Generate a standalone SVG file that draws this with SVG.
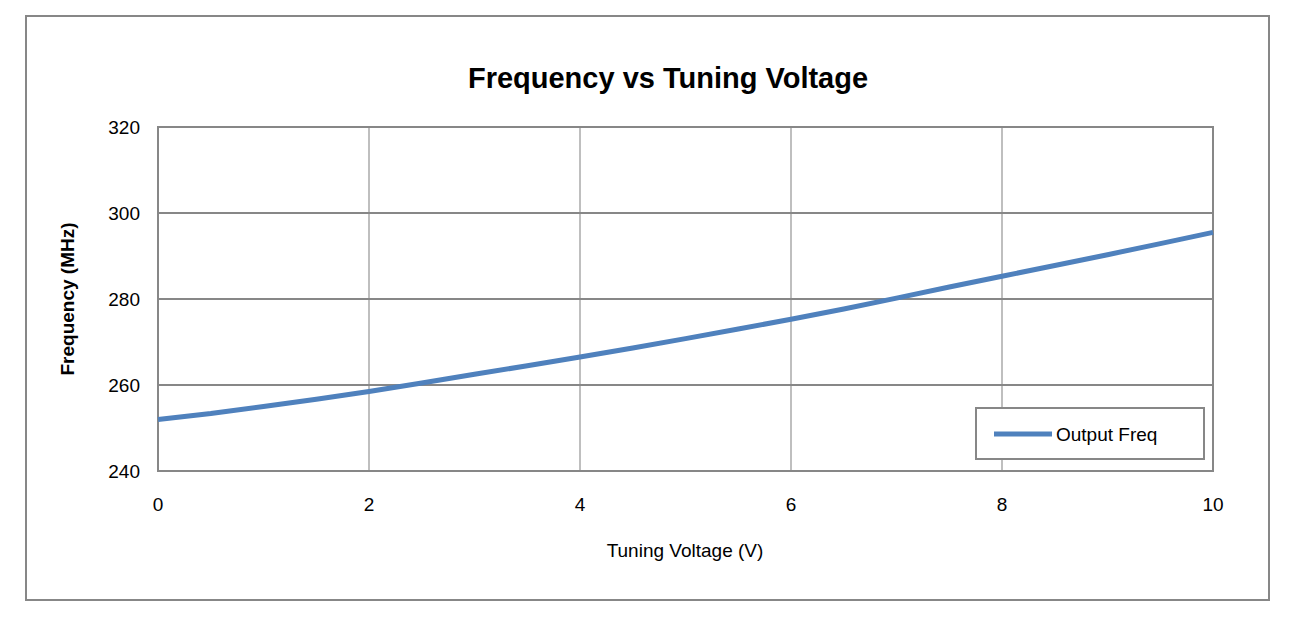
<svg xmlns="http://www.w3.org/2000/svg" width="1304" height="620" viewBox="0 0 1304 620">
<style>
text{font-family:"Liberation Sans","DejaVu Sans",sans-serif;fill:#000}
.t{font-size:19px}
.vg{stroke:#bfbfbf;stroke-width:2}
.hg{stroke:#878787;stroke-width:2}
</style>
<rect x="0" y="0" width="1304" height="620" fill="#fff"/>
<rect x="26" y="16" width="1243" height="584" fill="#fff" stroke="#878787" stroke-width="2"/>
<text x="668" y="88" text-anchor="middle" font-size="29" font-weight="bold">Frequency vs Tuning Voltage</text>
<g id="grid">
<line class="vg" x1="369" y1="127" x2="369" y2="471"/>
<line class="vg" x1="580" y1="127" x2="580" y2="471"/>
<line class="vg" x1="791" y1="127" x2="791" y2="471"/>
<line class="vg" x1="1002" y1="127" x2="1002" y2="471"/>
<line class="hg" x1="158" y1="213" x2="1213" y2="213"/>
<line class="hg" x1="158" y1="299" x2="1213" y2="299"/>
<line class="hg" x1="158" y1="385" x2="1213" y2="385"/>
<rect x="158" y="127" width="1055" height="344" fill="none" stroke="#878787" stroke-width="2"/>
</g>
<g id="yticks" class="t">
<text class="t" x="140" y="134" text-anchor="end">320</text>
<text class="t" x="140" y="220" text-anchor="end">300</text>
<text class="t" x="140" y="306" text-anchor="end">280</text>
<text class="t" x="140" y="392" text-anchor="end">260</text>
<text class="t" x="140" y="478" text-anchor="end">240</text>
</g>
<g id="xticks">
<text class="t" x="158" y="511" text-anchor="middle">0</text>
<text class="t" x="369" y="511" text-anchor="middle">2</text>
<text class="t" x="580" y="511" text-anchor="middle">4</text>
<text class="t" x="791" y="511" text-anchor="middle">6</text>
<text class="t" x="1002" y="511" text-anchor="middle">8</text>
<text class="t" x="1213" y="511" text-anchor="middle">10</text>
</g>
<text class="t" x="685" y="557" text-anchor="middle">Tuning Voltage (V)</text>
<text x="74" y="299" text-anchor="middle" font-size="19" font-weight="bold" transform="rotate(-90 74 299)">Frequency (MHz)</text>
<g id="connectors">
<polyline fill="none" stroke="#4f81bd" stroke-width="5" stroke-linejoin="round" points="158,419.4 210.8,413.6 263.5,406.5 316.3,399.3 369,391.5 421.8,383 474.5,374.3 527.3,365.8 580,357 632.8,348 685.5,338.6 738.3,329 791,319.2 843.8,309 896.5,298.1 949.3,287 1002,276.2 1054.8,265.5 1107.5,254.7 1160.3,243.6 1213,232.4"/>
</g>
<g id="legend">
<rect x="976" y="408" width="228" height="51" fill="#fff" stroke="#878787" stroke-width="2"/>
<line x1="994" y1="434" x2="1052" y2="434" stroke="#4f81bd" stroke-width="5"/>
<text class="t" x="1056" y="441">Output Freq</text>
</g>
</svg>
